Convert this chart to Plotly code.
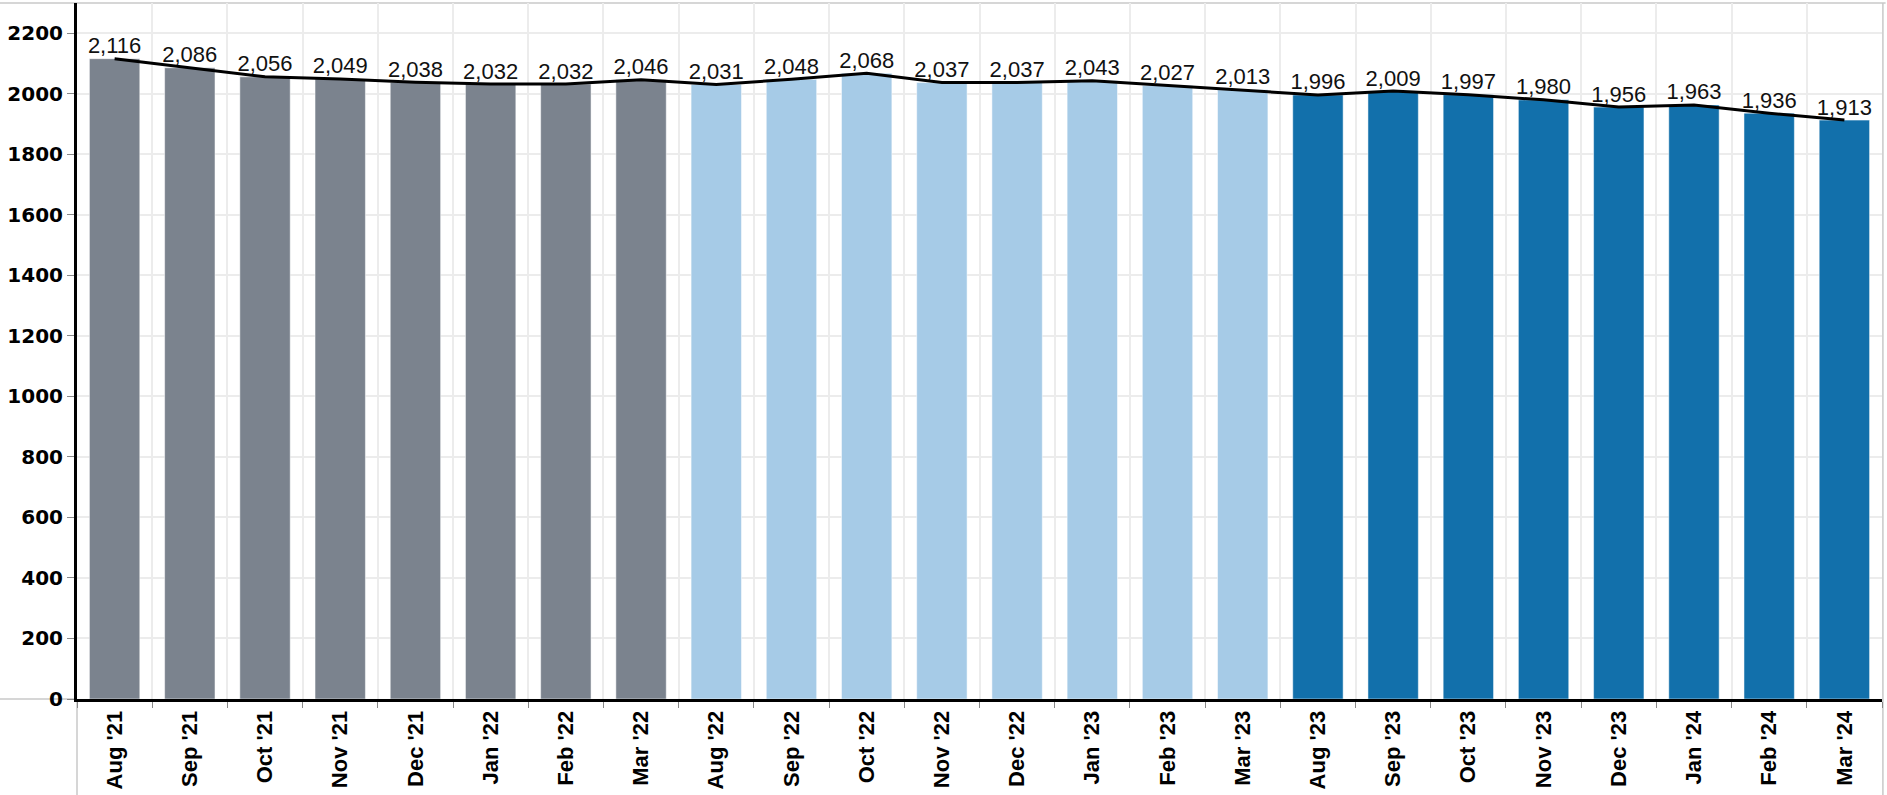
import plotly.graph_objects as go

categories = ["Aug '21", "Sep '21", "Oct '21", "Nov '21", "Dec '21", "Jan '22", "Feb '22", "Mar '22",
              "Aug '22", "Sep '22", "Oct '22", "Nov '22", "Dec '22", "Jan '23", "Feb '23", "Mar '23",
              "Aug '23", "Sep '23", "Oct '23", "Nov '23", "Dec '23", "Jan '24", "Feb '24", "Mar '24"]
values = [2116, 2086, 2056, 2049, 2038, 2032, 2032, 2046,
          2031, 2048, 2068, 2037, 2037, 2043, 2027, 2013,
          1996, 2009, 1997, 1980, 1956, 1963, 1936, 1913]
group_colors = ["#7b838e"] * 8 + ["#a6cbe7"] * 8 + ["#1270ab"] * 8
y_ticks = [0, 200, 400, 600, 800, 1000, 1200, 1400, 1600, 1800, 2000, 2200]

fig = go.Figure()
fig.add_trace(go.Bar(
    x=categories, y=values,
    marker=dict(color=group_colors, line=dict(width=1, color="rgba(255,255,255,0.5)")),
    showlegend=False, hoverinfo="x+y",
))
fig.add_trace(go.Scatter(
    x=categories, y=values, mode="lines+text",
    line=dict(color="black", width=3),
    text=[f"{v:,}" for v in values],
    textposition="top center",
    textfont=dict(family="Liberation Sans", size=22, color="#111111"),
    showlegend=False, cliponaxis=False,
))

grey = "#c8c8c8"
fig.update_layout(
    width=1887, height=795,
    margin=dict(l=77, r=5, t=3, b=96),
    paper_bgcolor="white", plot_bgcolor="white",
    bargap=0.33,
    xaxis=dict(
        type="category", tickson="boundaries", tickangle=-90, automargin=False,
        ticks="outside", ticklen=6, tickcolor="#888888", tickwidth=1,
        showgrid=True, gridcolor="#ececec", gridwidth=2,
        showline=True, linecolor="black", linewidth=3,
        tickfont=dict(family="Liberation Sans", size=22, color="black", weight="bold"),
        range=[-0.5, 23.5],
    ),
    yaxis=dict(
        range=[0, 2300], tickvals=y_ticks, ticktext=[str(t) for t in y_ticks], automargin=False,
        ticks="outside", ticklen=7, tickcolor="#888888", tickwidth=1,
        showgrid=True, gridcolor="#ececec", gridwidth=2,
        showline=True, linecolor="black", linewidth=3, zeroline=False,
        tickfont=dict(family="DejaVu Sans", size=20, color="black", weight="bold"),
    ),
    shapes=[
        dict(type="line", xref="paper", yref="paper", x0=-0.05, x1=1.002, y0=1.0, y1=1.0,
             line=dict(color=grey, width=1.5), layer="below"),
        dict(type="line", xref="paper", yref="paper", x0=1.0005, x1=1.0005, y0=-0.15, y1=1.0,
             line=dict(color=grey, width=1.5), layer="below"),
        dict(type="line", xref="paper", yref="paper", x0=-0.05, x1=0, y0=0, y1=0,
             line=dict(color=grey, width=1.5), layer="below"),
        dict(type="line", xref="paper", yref="paper", x0=0, x1=0, y0=-0.15, y1=0,
             line=dict(color=grey, width=1.5), layer="below"),
    ],
)

fig.write_html("out.html", config={"displayModeBar": False},
               post_script="document.body.style.margin='0';document.body.style.overflow='hidden';")
